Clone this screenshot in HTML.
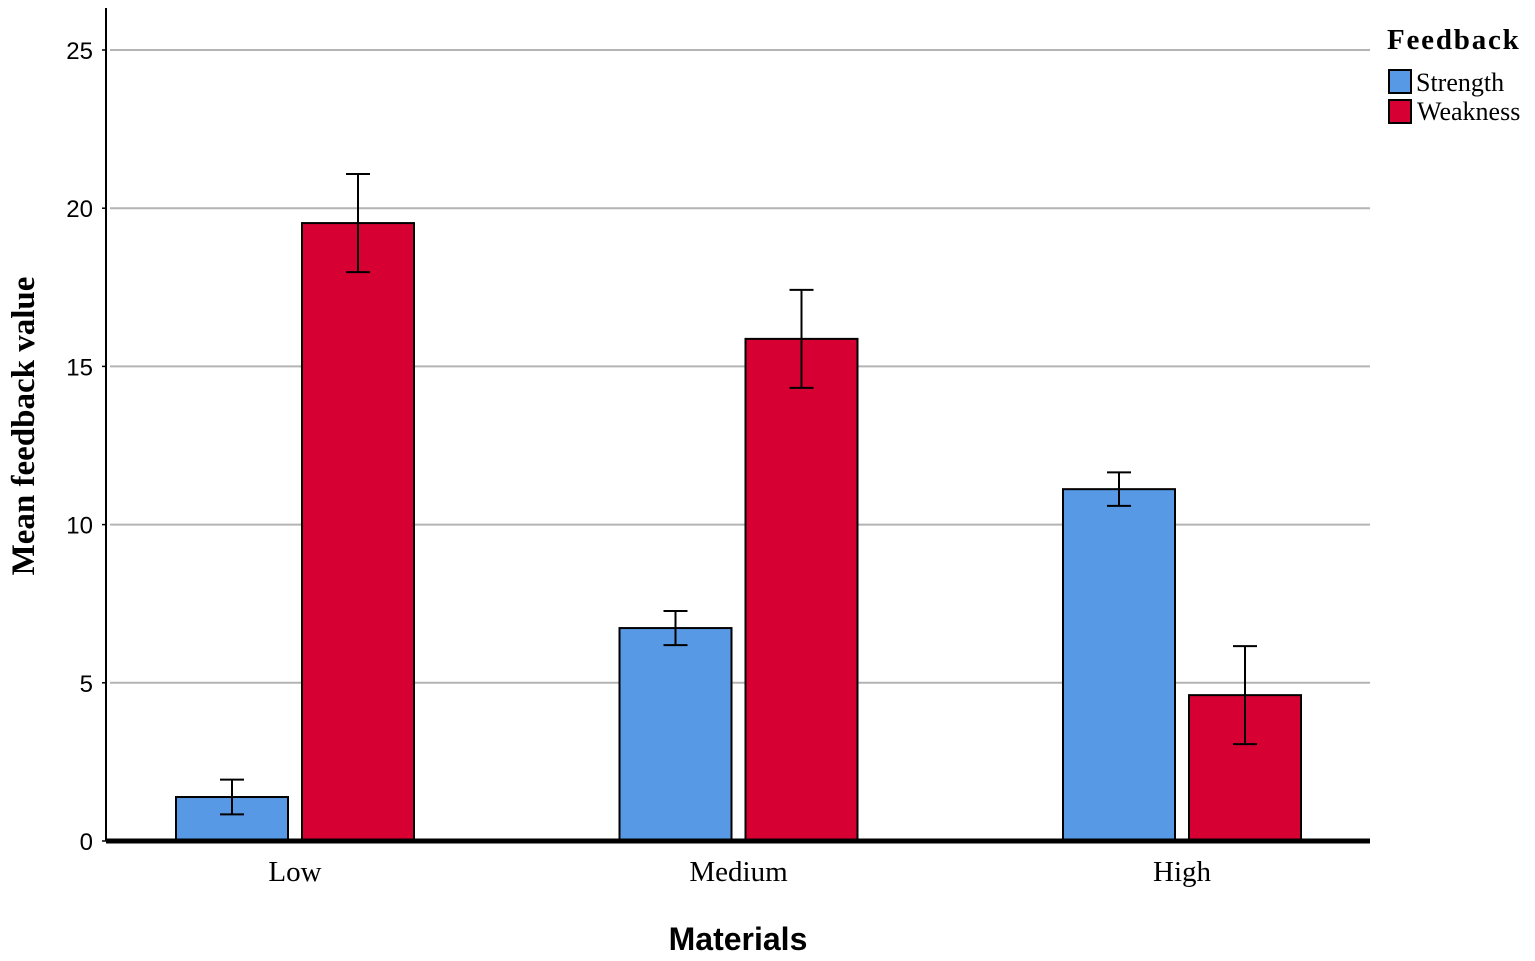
<!DOCTYPE html>
<html><head><meta charset="utf-8"><style>
html,body{margin:0;padding:0;background:#fff;}
svg{display:block;}
</style></head><body>
<svg id="chart" width="1535" height="961" xmlns="http://www.w3.org/2000/svg">
<g id="grid"></g>
<g id="bars"></g>
<g id="axes"></g>
<text x="0" y="0" transform="translate(34,426) rotate(-90)" text-anchor="middle" font-family="Liberation Serif, serif" font-weight="bold" font-size="33" fill="#000">Mean feedback value</text>
<text x="738" y="950" text-anchor="middle" font-family="Liberation Sans, sans-serif" font-weight="bold" font-size="32" fill="#000">Materials</text>
<g>
<text x="1387" y="49" font-family="Liberation Serif, serif" font-weight="bold" font-size="29" letter-spacing="1.8" fill="#000">Feedback</text>
<rect x="1389" y="70" width="22" height="23" fill="#5899e5" stroke="#000" stroke-width="2"/>
<text x="1416" y="91" font-family="Liberation Serif, serif" font-size="26" fill="#000">Strength</text>
<rect x="1389" y="100" width="22" height="23" fill="#d60032" stroke="#000" stroke-width="2"/>
<text x="1417" y="120" font-family="Liberation Serif, serif" font-size="26" fill="#000">Weakness</text>
</g>
</svg>
<script>
const categories = ["Low", "Medium", "High"];
const strength = [1.39, 6.73, 11.12];
const weakness = [19.53, 15.87, 4.61];
const strengthErr = [0.55, 0.54, 0.53];
const weaknessErr = [1.55, 1.55, 1.55];
const yTicks = [0, 5, 10, 15, 20, 25];

const NS = "http://www.w3.org/2000/svg";
const y0 = 841, pxPerUnit = (841 - 50) / 25;
const xLeft = 106, xRight = 1370;
const firstCenter = 295, groupStep = 443.5, barW = 112, barGap = 14;
function y(v){ return y0 - v * pxPerUnit; }
function xc(i){ return firstCenter + i * groupStep; }
function mk(tag, attrs, parent){ const e = document.createElementNS(NS, tag); for (const k in attrs) e.setAttribute(k, attrs[k]); parent.appendChild(e); return e; }

const grid = document.getElementById('grid');
const axes = document.getElementById('axes');
const bars = document.getElementById('bars');

yTicks.forEach(t => {
  if (t > 0) {
    const l = mk('line', {x1: xLeft + 4, x2: xRight, y1: y(t), y2: y(t), stroke: '#b4b4b4', 'stroke-width': 2}, grid);
    
    
  }
  const tk = mk('line', {x1: xLeft - 4, x2: xLeft, y1: y(t), y2: y(t), stroke: '#000', 'stroke-width': 1.5}, axes);
  
  
  const tx = mk('text', {x: 93, y: y(t) + 9, 'text-anchor': 'end', 'font-family': 'Liberation Sans, sans-serif', 'font-size': 24, fill: '#000'}, axes);
  tx.textContent = t;
  
  
});

function drawBar(i, val, err, color, name, offset){
  const x = xc(i) + offset;
  const r = mk('rect', {x: x, y: y(val), width: barW, height: y0 - y(val), fill: color, stroke: '#000', 'stroke-width': 2}, bars);
  
  
  const cx = x + barW / 2;
  const g = mk('g', {stroke: '#000', 'stroke-width': 2}, bars);
  
  
  mk('line', {x1: cx, x2: cx, y1: y(val + err), y2: y(val - err)}, g);
  mk('line', {x1: cx - 12, x2: cx + 12, y1: y(val + err), y2: y(val + err)}, g);
  mk('line', {x1: cx - 12, x2: cx + 12, y1: y(val - err), y2: y(val - err)}, g);
}
categories.forEach((c, i) => {
  drawBar(i, strength[i], strengthErr[i], '#5899e5', 'strength', -barGap / 2 - barW);
  drawBar(i, weakness[i], weaknessErr[i], '#d60032', 'weakness', barGap / 2);
  const t = mk('text', {x: xc(i), y: 881, 'text-anchor': 'middle', 'font-family': 'Liberation Serif, serif', 'font-size': 29, fill: '#000'}, axes);
  t.textContent = c;
  
  
});

const ya = mk('line', {x1: xLeft, x2: xLeft, y1: 8, y2: y0, stroke: '#000', 'stroke-width': 2}, axes);


const xa = mk('line', {x1: xLeft, x2: xRight, y1: y0, y2: y0, stroke: '#000', 'stroke-width': 5}, axes);


</script>
</body></html>
